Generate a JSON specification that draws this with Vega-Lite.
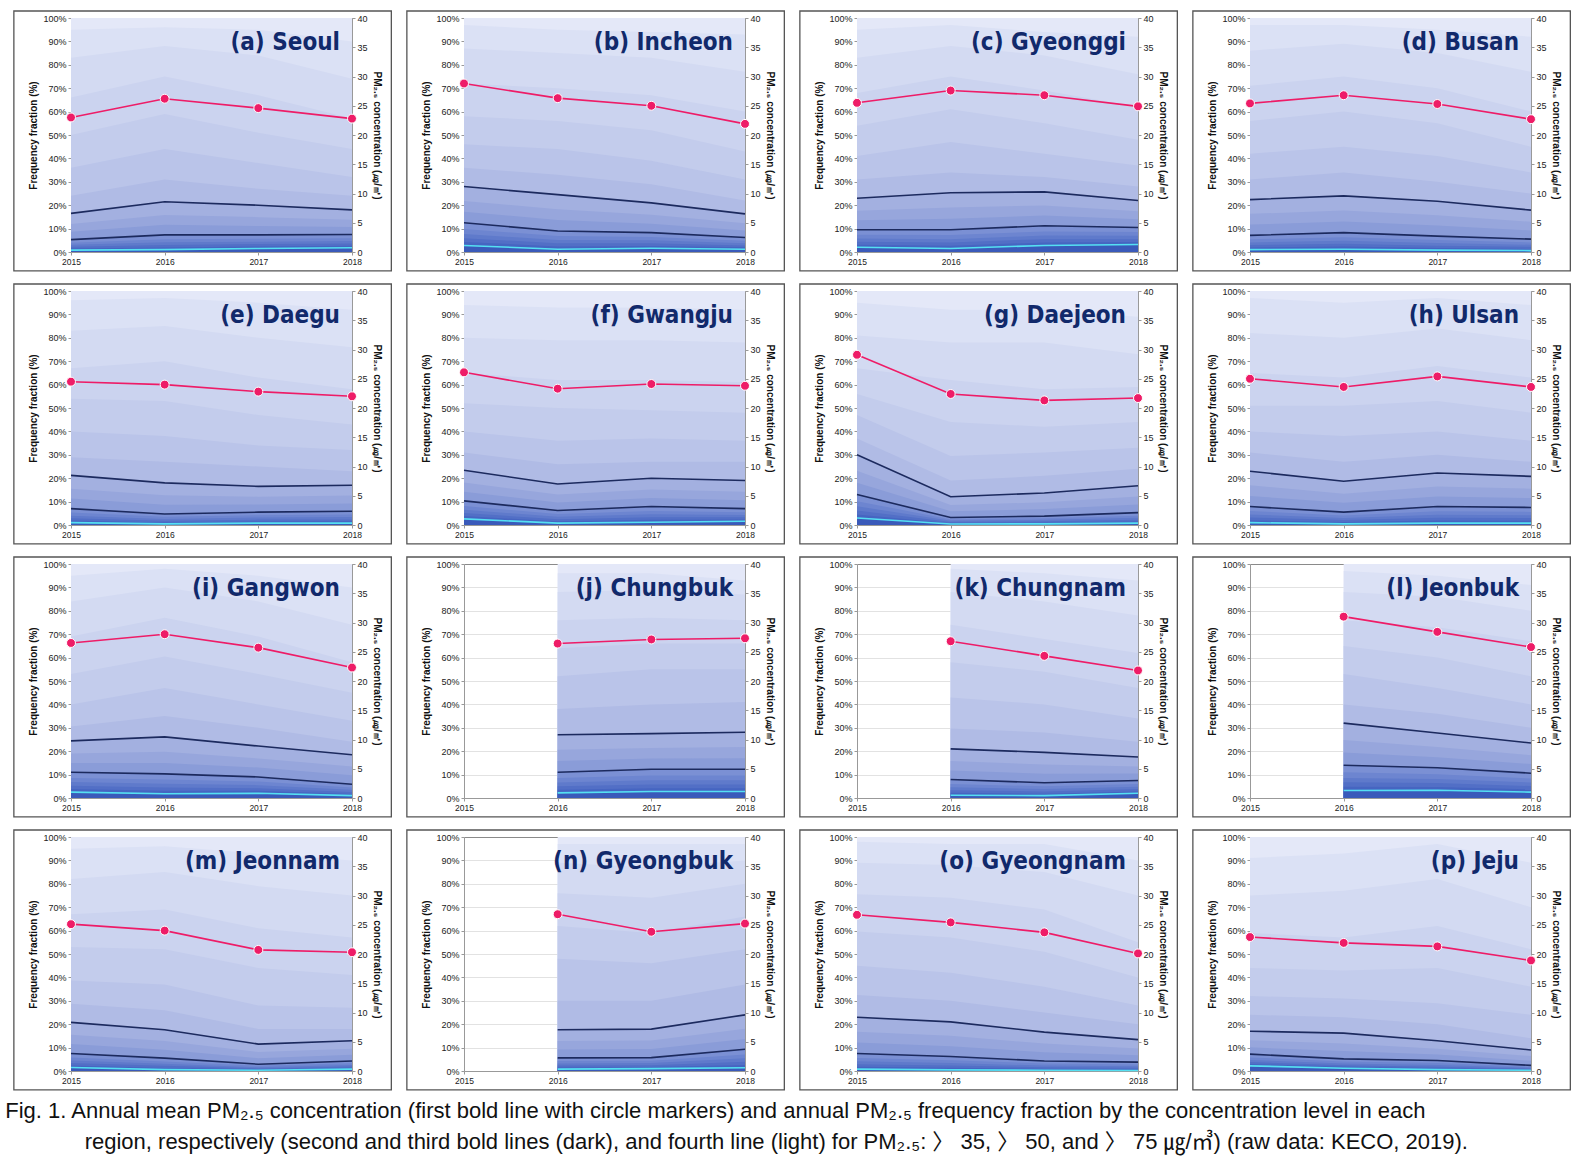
{
  "$schema": "https://vega.github.io/schema/vega-lite/v6.json",
  "background": "white",
  "padding": {"left": 5, "top": 10, "right": 5, "bottom": 5},
  "data": {"values": [
    {"band":"f00","year":2015,"a":100,"b":100,"c":100,"d":100,"e":100,"f":100,"g":100,"h":100,"i":100,"j":null,"k":null,"l":null,"m":100,"n":null,"o":100,"p":100},
    {"band":"f00","year":2016,"a":100,"b":100,"c":100,"d":100,"e":100,"f":100,"g":100,"h":100,"i":100,"j":100,"k":100,"l":100,"m":100,"n":100,"o":100,"p":100},
    {"band":"f00","year":2017,"a":100,"b":100,"c":100,"d":100,"e":100,"f":100,"g":100,"h":100,"i":100,"j":100,"k":100,"l":100,"m":100,"n":100,"o":100,"p":100},
    {"band":"f00","year":2018,"a":100,"b":100,"c":100,"d":100,"e":100,"f":100,"g":100,"h":100,"i":100,"j":100,"k":100,"l":100,"m":100,"n":100,"o":100,"p":100},
    {"band":"f05","year":2015,"a":95,"b":97,"c":95,"d":97,"e":96,"f":94,"g":95,"h":97,"i":95,"j":null,"k":null,"l":null,"m":95,"n":null,"o":98,"p":91},
    {"band":"f05","year":2016,"a":96,"b":95,"c":97,"d":97,"e":97,"f":93,"g":92,"h":95,"i":98,"j":96,"k":98,"l":97,"m":96,"n":97,"o":97,"p":93},
    {"band":"f05","year":2017,"a":95,"b":94,"c":94,"d":95,"e":95,"f":93,"g":92,"h":97,"i":95,"j":96,"k":96,"l":95,"m":93,"n":97,"o":97,"p":97},
    {"band":"f05","year":2018,"a":90,"b":93,"c":92,"d":92,"e":92,"f":92,"g":89,"h":94,"i":90,"j":93,"k":93,"l":91,"m":90,"n":97,"o":90,"p":89},
    {"band":"f10","year":2015,"a":83,"b":87,"c":83,"d":86,"e":83,"f":80,"g":81,"h":82,"i":84,"j":null,"k":null,"l":null,"m":82,"n":null,"o":89,"p":75},
    {"band":"f10","year":2016,"a":88,"b":85,"c":88,"d":89,"e":85,"f":79,"g":78,"h":80,"i":90,"j":88,"k":88,"l":88,"m":85,"n":89,"o":88,"p":77},
    {"band":"f10","year":2017,"a":84,"b":83,"c":84,"d":85,"e":80,"f":79,"g":78,"h":84,"i":84,"j":89,"k":84,"l":86,"m":79,"n":87,"o":85,"p":82},
    {"band":"f10","year":2018,"a":74,"b":77,"c":76,"d":77,"e":76,"f":78,"g":73,"h":79,"i":74,"j":87,"k":78,"l":80,"m":75,"n":90,"o":75,"p":70},
    {"band":"f15","year":2015,"a":66,"b":72,"c":68,"d":71,"e":67,"f":65,"g":67,"h":65,"i":69,"j":null,"k":null,"l":null,"m":67,"n":null,"o":75.5,"p":59},
    {"band":"f15","year":2016,"a":75,"b":70,"c":75,"d":75,"e":70,"f":62,"g":62,"h":63,"i":77,"j":76,"k":74,"l":76,"m":69,"n":76,"o":74,"p":57},
    {"band":"f15","year":2017,"a":67,"b":67,"c":69,"d":70,"e":63,"f":62,"g":58,"h":68,"i":69,"j":77,"k":68,"l":73,"m":61,"n":74,"o":69,"p":62},
    {"band":"f15","year":2018,"a":57,"b":60,"c":62,"d":60,"e":58,"f":61,"g":59,"h":63,"i":58,"j":76,"k":62,"l":67,"m":57,"n":80,"o":55,"p":52},
    {"band":"f20","year":2015,"a":50,"b":58,"c":54,"d":56,"e":54,"f":52,"g":56,"h":51,"i":53,"j":null,"k":null,"l":null,"m":53,"n":null,"o":59.6,"p":44},
    {"band":"f20","year":2016,"a":59,"b":56,"c":61,"d":60,"e":53,"f":50,"g":44,"h":51,"i":60.5,"j":64,"k":58,"l":65,"m":52,"n":62,"o":57,"p":43},
    {"band":"f20","year":2017,"a":51,"b":52,"c":55,"d":55,"e":47,"f":49,"g":42,"h":53,"i":53,"j":66,"k":54,"l":60,"m":44,"n":59,"o":51,"p":44},
    {"band":"f20","year":2018,"a":44,"b":43,"c":48,"d":45,"e":43,"f":48,"g":44,"h":48,"i":45,"j":66,"k":47,"l":52,"m":41,"n":66,"o":40,"p":36},
    {"band":"f25","year":2015,"a":36,"b":46,"c":41,"d":42,"e":40,"f":40,"g":47,"h":40,"i":40,"j":null,"k":null,"l":null,"m":38.7,"n":null,"o":45,"p":32},
    {"band":"f25","year":2016,"a":44,"b":44,"c":47,"d":45,"e":38,"f":36,"g":29.5,"h":38,"i":47,"j":52,"k":43,"l":53,"m":37,"n":48,"o":42,"p":31},
    {"band":"f25","year":2017,"a":38,"b":39,"c":42,"d":41,"e":34,"f":37,"g":31,"h":40,"i":40,"j":55,"k":40,"l":47,"m":28,"n":46,"o":36,"p":29},
    {"band":"f25","year":2018,"a":32,"b":31,"c":37,"d":34,"e":32,"f":36,"g":33,"h":36,"i":33,"j":55,"k":34,"l":40,"m":27,"n":52,"o":28,"p":24},
    {"band":"f30","year":2015,"a":24,"b":36,"c":31,"d":31,"e":29,"f":31,"g":37,"h":31,"i":30.6,"j":null,"k":null,"l":null,"m":28.7,"n":null,"o":32.5,"p":24},
    {"band":"f30","year":2016,"a":31,"b":33,"c":34,"d":34,"e":27,"f":26,"g":19,"h":27,"i":35,"j":38,"k":29.7,"l":40,"m":26,"n":30,"o":30,"p":23},
    {"band":"f30","year":2017,"a":27,"b":29,"c":32,"d":30,"e":25,"f":27,"g":21,"h":30,"i":30,"j":40,"k":28,"l":36,"m":18,"n":30,"o":25,"p":20},
    {"band":"f30","year":2018,"a":24,"b":22,"c":28,"d":25,"e":23,"f":27,"g":24,"h":27,"i":24,"j":41,"k":24,"l":30,"m":18,"n":37,"o":20,"p":14},
    {"band":"f35","year":2015,"a":16.5,"b":28,"c":23,"d":22.4,"e":21.2,"f":23.4,"g":30,"h":23,"i":24.4,"j":null,"k":null,"l":null,"m":20.8,"n":null,"o":23,"p":17},
    {"band":"f35","year":2016,"a":21.5,"b":24.5,"c":25.3,"d":24,"e":18,"f":17.5,"g":12.1,"h":18.7,"i":26.1,"j":27,"k":21,"l":32,"m":17.6,"n":17.6,"o":21,"p":16.2},
    {"band":"f35","year":2017,"a":20,"b":21,"c":25.7,"d":21.7,"e":16.5,"f":20,"g":13.7,"h":22.2,"i":22.2,"j":27.5,"k":19.5,"l":27.8,"m":11.5,"n":17.9,"o":16.6,"p":12.9},
    {"band":"f35","year":2018,"a":18,"b":16.3,"c":22,"d":17.9,"e":17,"f":19,"g":16.8,"h":20.8,"i":18.5,"j":28.1,"k":17.5,"l":23.5,"m":12.9,"n":24,"o":13.4,"p":9},
    {"band":"f40","year":2015,"a":12.0,"b":21.8,"c":17.6,"d":16.3,"e":15.5,"f":18.2,"g":23.2,"h":17,"i":19.0,"j":null,"k":null,"l":null,"m":15.5,"n":null,"o":16.8,"p":13.1},
    {"band":"f40","year":2016,"a":15.8,"b":18.3,"c":19.0,"d":17.7,"e":12.7,"f":13.0,"g":8.5,"h":13.4,"i":19.8,"j":20.6,"k":15.8,"l":24.8,"m":12.8,"n":12.8,"o":15.1,"p":11.8},
    {"band":"f40","year":2017,"a":14.9,"b":15.9,"c":19.9,"d":15.7,"e":12.1,"f":15.2,"g":9.7,"h":16.5,"i":16.9,"j":21.4,"k":14.3,"l":21.8,"m":8.1,"n":13.0,"o":11.7,"p":9.5},
    {"band":"f40","year":2018,"a":13.8,"b":12.3,"c":17.4,"d":12.9,"e":12.6,"f":14.2,"g":12.2,"h":15.5,"i":13.5,"j":21.8,"k":13.5,"l":18.3,"m":9.5,"n":18.1,"o":9.6,"p":6.4},
    {"band":"f45","year":2015,"a":8.7,"b":17.2,"c":13.6,"d":11.7,"e":11.3,"f":14.2,"g":18.1,"h":12.4,"i":15.0,"j":null,"k":null,"l":null,"m":11.5,"n":null,"o":12.2,"p":10.1},
    {"band":"f45","year":2016,"a":11.6,"b":13.7,"c":14.2,"d":13.0,"e":8.7,"f":9.6,"g":5.9,"h":9.5,"i":15.0,"j":15.8,"k":11.8,"l":19.4,"m":9.1,"n":9.2,"o":10.6,"p":8.5},
    {"band":"f45","year":2017,"a":11.1,"b":12.1,"c":15.6,"d":11.3,"e":8.8,"f":11.5,"g":6.8,"h":12.2,"i":13.0,"j":16.9,"k":10.4,"l":17.4,"m":5.5,"n":9.4,"o":8.0,"p":7.0},
    {"band":"f45","year":2018,"a":10.7,"b":9.2,"c":14,"d":9.2,"e":9.2,"f":10.6,"g":8.8,"h":11.5,"i":9.7,"j":17.0,"k":10.5,"l":14.5,"m":6.9,"n":13.7,"o":6.7,"p":4.4},
    {"band":"f50","year":2015,"a":5.3,"b":12.5,"c":9.5,"d":7.1,"e":7,"f":10.3,"g":13,"h":7.9,"i":11,"j":null,"k":null,"l":null,"m":7.5,"n":null,"o":7.5,"p":7.2},
    {"band":"f50","year":2016,"a":7.3,"b":9,"c":9.5,"d":8.3,"e":4.7,"f":6.2,"g":3.2,"h":5.5,"i":10.3,"j":11,"k":7.9,"l":14,"m":5.5,"n":5.6,"o":6.2,"p":5.2},
    {"band":"f50","year":2017,"a":7.3,"b":8.3,"c":11.2,"d":6.8,"e":5.5,"f":7.9,"g":3.8,"h":7.9,"i":9,"j":12.3,"k":6.5,"l":12.9,"m":2.9,"n":5.7,"o":4.3,"p":4.5},
    {"band":"f50","year":2018,"a":7.5,"b":6.2,"c":10.5,"d":5.5,"e":5.9,"f":7,"g":5.3,"h":7.5,"i":5.9,"j":12.3,"k":7.5,"l":10.6,"m":4.3,"n":9.3,"o":3.8,"p":2.4},
    {"band":"f55","year":2015,"a":4.0,"b":9.8,"c":7.4,"d":5.4,"e":5.3,"f":8.1,"g":10.2,"h":6.0,"i":8.6,"j":null,"k":null,"l":null,"m":5.8,"n":null,"o":5.6,"p":5.8},
    {"band":"f55","year":2016,"a":5.5,"b":6.8,"c":7.3,"d":6.3,"e":3.5,"f":4.7,"g":2.4,"h":4.1,"i":7.9,"j":8.5,"k":6.0,"l":11.0,"m":4.1,"n":4.3,"o":4.6,"p":4.1},
    {"band":"f55","year":2017,"a":5.7,"b":6.4,"c":8.8,"d":5.1,"e":4.2,"f":6.0,"g":2.9,"h":5.9,"i":7.0,"j":9.6,"k":5.0,"l":10.2,"m":2.2,"n":4.4,"o":3.2,"p":3.4},
    {"band":"f55","year":2018,"a":5.9,"b":4.8,"c":8.5,"d":4.1,"e":4.5,"f":5.5,"g":4.0,"h":5.6,"i":4.5,"j":9.6,"k":6.0,"l":8.3,"m":3.3,"n":7.1,"o":2.8,"p":1.8},
    {"band":"f60","year":2015,"a":3.1,"b":7.7,"c":5.8,"d":4.1,"e":4.0,"f":6.5,"g":8.0,"h":4.5,"i":6.8,"j":null,"k":null,"l":null,"m":4.5,"n":null,"o":4.2,"p":4.7},
    {"band":"f60","year":2016,"a":4.2,"b":5.1,"c":5.5,"d":4.8,"e":2.6,"f":3.5,"g":1.8,"h":3.0,"i":6.1,"j":6.6,"k":4.6,"l":8.6,"m":3.1,"n":3.2,"o":3.4,"p":3.2},
    {"band":"f60","year":2017,"a":4.4,"b":5.0,"c":7.0,"d":3.8,"e":3.2,"f":4.6,"g":2.2,"h":4.4,"i":5.5,"j":7.6,"k":3.8,"l":8.1,"m":1.6,"n":3.4,"o":2.3,"p":2.6},
    {"band":"f60","year":2018,"a":4.7,"b":3.7,"c":6.9,"d":3.1,"e":3.4,"f":4.3,"g":3.1,"h":4.2,"i":3.5,"j":7.6,"k":4.8,"l":6.6,"m":2.6,"n":5.4,"o":2.0,"p":1.4},
    {"band":"f65","year":2015,"a":2.2,"b":5.9,"c":4.4,"d":3.0,"e":2.9,"f":5.1,"g":6.2,"h":3.2,"i":5.2,"j":null,"k":null,"l":null,"m":3.4,"n":null,"o":2.9,"p":3.8},
    {"band":"f65","year":2016,"a":3.0,"b":3.7,"c":4.1,"d":3.5,"e":1.8,"f":2.5,"g":1.3,"h":2.1,"i":4.5,"j":5.0,"k":3.3,"l":6.7,"m":2.2,"n":2.3,"o":2.3,"p":2.5},
    {"band":"f65","year":2017,"a":3.4,"b":3.7,"c":5.5,"d":2.7,"e":2.3,"f":3.3,"g":1.6,"h":3.1,"i":4.2,"j":5.8,"k":2.8,"l":6.4,"m":1.1,"n":2.5,"o":1.6,"p":1.8},
    {"band":"f65","year":2018,"a":3.6,"b":2.8,"c":5.5,"d":2.2,"e":2.4,"f":3.3,"g":2.2,"h":3.0,"i":2.6,"j":5.8,"k":3.8,"l":5.1,"m":1.9,"n":3.9,"o":1.4,"p":1.0},
    {"band":"f70","year":2015,"a":1.5,"b":4.3,"c":3.1,"d":1.9,"e":1.9,"f":3.8,"g":4.5,"h":2.0,"i":3.8,"j":null,"k":null,"l":null,"m":2.4,"n":null,"o":1.8,"p":3.0},
    {"band":"f70","year":2016,"a":1.9,"b":2.4,"c":2.7,"d":2.3,"e":1.1,"f":1.6,"g":0.8,"h":1.3,"i":3.1,"j":3.5,"k":2.2,"l":4.8,"m":1.3,"n":1.5,"o":1.4,"p":1.8},
    {"band":"f70","year":2017,"a":2.4,"b":2.6,"c":4.1,"d":1.7,"e":1.5,"f":2.2,"g":1.0,"h":1.9,"i":3.1,"j":4.2,"k":1.8,"l":4.7,"m":0.7,"n":1.7,"o":0.9,"p":1.2},
    {"band":"f70","year":2018,"a":2.7,"b":2.0,"c":4.3,"d":1.3,"e":1.6,"f":2.4,"g":1.5,"h":1.8,"i":1.7,"j":4.2,"k":2.8,"l":3.7,"m":1.3,"n":2.6,"o":0.7,"p":0.6},
    {"band":"f75","year":2015,"a":0.8,"b":2.8,"c":2.0,"d":1.0,"e":1.0,"f":2.6,"g":3.0,"h":1.0,"i":2.5,"j":null,"k":null,"l":null,"m":1.5,"n":null,"o":0.8,"p":2.2},
    {"band":"f75","year":2016,"a":1.0,"b":1.2,"c":1.5,"d":1.2,"e":0.5,"f":0.8,"g":0.4,"h":0.5,"i":1.8,"j":2.2,"k":1.2,"l":3.2,"m":0.6,"n":0.8,"o":0.5,"p":1.2},
    {"band":"f75","year":2017,"a":1.5,"b":1.6,"c":2.8,"d":0.8,"e":0.8,"f":1.2,"g":0.5,"h":0.8,"i":2.0,"j":2.8,"k":1.0,"l":3.3,"m":0.3,"n":1.0,"o":0.3,"p":0.6},
    {"band":"f75","year":2018,"a":1.8,"b":1.2,"c":3.2,"d":0.6,"e":0.8,"f":1.6,"g":0.8,"h":0.8,"i":1.0,"j":2.8,"k":2.0,"l":2.5,"m":0.8,"n":1.4,"o":0.2,"p":0.3},
    {"band":"conc","year":2015,"a":23.0,"b":28.8,"c":25.5,"d":25.4,"e":24.5,"f":26.1,"g":29.1,"h":25.0,"i":26.5,"j":null,"k":null,"l":null,"m":25.1,"n":null,"o":26.7,"p":22.9},
    {"band":"conc","year":2016,"a":26.2,"b":26.3,"c":27.6,"d":26.8,"e":24.0,"f":23.3,"g":22.4,"h":23.6,"i":28.0,"j":26.4,"k":26.8,"l":31.0,"m":24.0,"n":26.8,"o":25.4,"p":21.9},
    {"band":"conc","year":2017,"a":24.6,"b":25.0,"c":26.8,"d":25.3,"e":22.8,"f":24.1,"g":21.3,"h":25.4,"i":25.7,"j":27.1,"k":24.3,"l":28.4,"m":20.7,"n":23.8,"o":23.7,"p":21.3},
    {"band":"conc","year":2018,"a":22.8,"b":21.9,"c":24.9,"d":22.7,"e":22.0,"f":23.8,"g":21.7,"h":23.6,"i":22.3,"j":27.3,"k":21.8,"l":25.8,"m":20.3,"n":25.2,"o":20.1,"p":18.9},
    {"band":"label","year":2018,"a":"(a) Seoul","b":"(b) Incheon","c":"(c) Gyeonggi","d":"(d) Busan","e":"(e) Daegu","f":"(f) Gwangju","g":"(g) Daejeon","h":"(h) Ulsan","i":"(i) Gangwon","j":"(j) Chungbuk","k":"(k) Chungnam","l":"(l) Jeonbuk","m":"(m) Jeonnam","n":"(n) Gyeongbuk","o":"(o) Gyeongnam","p":"(p) Jeju"}
  ]},
  "repeat": ["a","b","c","d","e","f","g","h","i","j","k","l","m","n","o","p"],
  "columns": 4,
  "spacing": {"row": 11, "column": 14},
  "spec": {
    "width": 281,
    "height": 234,
    "encoding": {
      "x": {"field": "year", "type": "quantitative", "scale": {"domain": [2015, 2018]},
        "axis": {"values": [2015, 2016, 2017, 2018], "format": "d", "title": null, "grid": false, "labelFontSize": 8.5, "tickSize": 3, "labelPadding": 2, "labelFlush": false}}
    },
    "layer": [
      {"layer": [
        {"transform": [{"filter": "datum.band !== 'conc' && datum.band !== 'label'"}],
         "mark": {"type": "area", "opacity": 1},
         "encoding": {
           "y": {"field": {"repeat": "repeat"}, "type": "quantitative", "stack": null, "scale": {"domain": [0, 100]},
             "axis": {"values": [0,10,20,30,40,50,60,70,80,90,100], "tickCount": 20, "labelOverlap": false, "labelExpr": "datum.value + '%'", "title": "Frequency fraction (%)", "grid": true,
               "gridColor": {"condition": {"test": "datum.value === 100", "value": "#8a8a8a"}, "value": "#e2e2e2"}, "tickSize": 3, "titlePadding": 4}},
           "color": {"field": "band", "type": "nominal", "legend": null,
             "scale": {"domain": ["f00","f05","f10","f15","f20","f25","f30","f35","f40","f45","f50","f55","f60","f65","f70","f75"],
               "range": ["#e4e8f8","#dbe1f5","#d3daf2","#cbd3ef","#c3ccec","#bac4e9","#b0bbe5","#a3b0e0","#97a6dc","#8a9cd8","#7b90d4","#6d85d0","#5f7acb","#526fc6","#4665c1","#3a5aba"]}}
         }},
        {"transform": [{"filter": "datum.band === 'f35' || datum.band === 'f50' || datum.band === 'f75'"}],
         "mark": {"type": "line", "strokeWidth": 1.6},
         "encoding": {
           "y": {"field": {"repeat": "repeat"}, "type": "quantitative"},
           "stroke": {"field": "band", "type": "nominal", "legend": null, "scale": {"domain": ["f35","f50","f75"], "range": ["#1c2a5e","#1c2a5e","#55e0f2"]}}
         }},
        {"transform": [{"filter": "datum.band === 'label'"}],
         "mark": {"type": "text", "align": "right", "baseline": "middle", "dx": -12, "font": "Liberation Sans Narrow, DejaVu Sans Condensed, Roboto, sans-serif", "fontSize": 24, "fontWeight": "bold", "color": "#11296b"},
         "encoding": {"x": {"datum": 2018}, "y": {"datum": 89.5}, "text": {"field": {"repeat": "repeat"}, "type": "nominal"}}},
        {"transform": [{"filter": "datum.band === 'label'"}],
         "mark": {"type": "rect", "filled": false, "stroke": "#555555", "strokeWidth": 1.3},
         "encoding": {"x": {"datum": 2014.39}, "x2": {"datum": 2018.42}, "y": {"datum": 103}, "y2": {"datum": -8.1}}}
      ]},
      {"transform": [{"filter": "datum.band === 'conc'"}],
       "layer": [
        {"mark": {"type": "line", "color": "#ee1c67", "strokeWidth": 1.6},
         "encoding": {"y": {"field": {"repeat": "repeat"}, "type": "quantitative", "scale": {"domain": [0, 40]},
           "axis": {"orient": "right", "values": [0,5,10,15,20,25,30,35,40], "tickCount": 20, "labelOverlap": false, "title": "PM₂.₅ concentration (㎍/㎥)", "grid": false, "tickSize": 3, "titlePadding": 4}}}},
        {"mark": {"type": "point", "filled": true, "size": 80, "color": "#ee1c67", "stroke": "white", "strokeWidth": 1, "opacity": 1},
         "encoding": {"y": {"field": {"repeat": "repeat"}, "type": "quantitative"}}}
      ]}
    ],
    "resolve": {"scale": {"y": "independent"}}
  },
  "title": {
    "text": ["Fig. 1. Annual mean PM₂.₅ concentration (first bold line with circle markers) and annual PM₂.₅ frequency fraction by the concentration level in each", "\u200b\u00a0\u00a0\u00a0\u00a0\u00a0\u00a0\u00a0\u00a0\u00a0\u00a0\u00a0\u00a0\u00a0region, respectively (second and third bold lines (dark), and fourth line (light) for PM₂.₅: 〉 35, 〉 50, and 〉 75 ㎍/㎥) (raw data: KECO, 2019)."],
    "orient": "bottom", "anchor": "start", "dx": -8, "offset": 10,
    "font": "Liberation Sans, Noto Sans CJK KR, sans-serif", "fontSize": 22, "fontWeight": "normal", "lineHeight": 31, "color": "#111111"
  },
  "config": {
    "view": {"stroke": null},
    "axis": {"labelFont": "Liberation Sans", "labelFontSize": 9, "labelColor": "#222222", "titleFont": "Liberation Sans", "titleFontSize": 10, "titleFontWeight": "bold", "titleColor": "#111111", "domainColor": "#999999", "tickColor": "#999999"}
  }
}
